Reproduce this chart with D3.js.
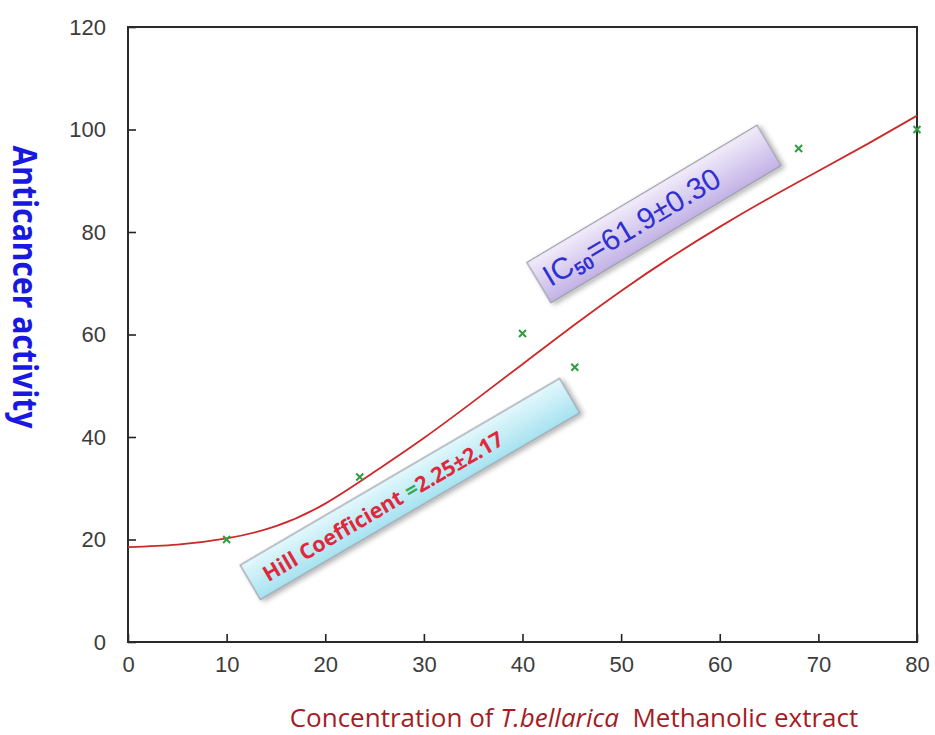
<!DOCTYPE html>
<html>
<head>
<meta charset="utf-8">
<script src="https://cdn.jsdelivr.net/npm/d3@7"></script>
<style>
  html, body { margin: 0; padding: 0; background: #ffffff; }
  svg { display: block; }
</style>
</head>
<body>
<svg id="chart" width="935" height="735"></svg>
<script>
// ---- data ----
const xTicks = [0, 10, 20, 30, 40, 50, 60, 70, 80];
const yTicks = [0, 20, 40, 60, 80, 100, 120];
const obsX = [10, 23.5, 40, 45.3, 68, 80];
const obsY = [20, 32.2, 60.2, 53.6, 96.3, 100];
const fitX = [0, 5, 10, 15, 20, 25, 30, 35, 40, 45, 50, 55, 60, 65, 70, 75, 80];
const fitY = [18.5, 19.0, 20.2, 22.6, 27.0, 33.2, 39.8, 46.9, 54.2, 61.5, 68.5, 75.0, 81.0, 86.6, 91.9, 97.2, 102.7];
const yTitle = "Anticancer activity";
const icLabel = ["IC", "50", "=61.9±0.30"];
const hillLabel = ["Hill Coefficient ", "=", "2.25±2.17"];

// ---- layout ----
const svg = d3.select("#chart");
const L = 128, R = 917, T = 27, B = 642;
const x = d3.scaleLinear().domain([0, 80]).range([L, R]);
const y = d3.scaleLinear().domain([0, 120]).range([B, T]);

const defs = svg.append("defs");
const gP = defs.append("linearGradient").attr("id", "gP").attr("x1", 0).attr("y1", 0).attr("x2", 0).attr("y2", 1);
gP.append("stop").attr("offset", "0%").attr("stop-color", "#f1ecfa");
gP.append("stop").attr("offset", "100%").attr("stop-color", "#c2b2e6");
const gC = defs.append("linearGradient").attr("id", "gC").attr("x1", 0).attr("y1", 0).attr("x2", 0).attr("y2", 1);
gC.append("stop").attr("offset", "0%").attr("stop-color", "#e3f8fc");
gC.append("stop").attr("offset", "100%").attr("stop-color", "#a6e2f0");
const sh = defs.append("filter").attr("id", "sh").attr("x", "-20%").attr("y", "-50%").attr("width", "140%").attr("height", "200%");
sh.append("feDropShadow").attr("dx", 2).attr("dy", 3).attr("stdDeviation", 2.5).attr("flood-color", "#000").attr("flood-opacity", 0.3);

// ---- axes ----
const tickFont = "'Liberation Sans', Arial, sans-serif";
const xAxis = svg.append("g").attr("transform", `translate(0,${B})`)
  .call(d3.axisBottom(x).tickValues(xTicks).tickSizeInner(-8).tickSizeOuter(0).tickPadding(14));
const yAxis = svg.append("g").attr("transform", `translate(${L},0)`)
  .call(d3.axisLeft(y).tickValues(yTicks).tickSizeInner(-8).tickSizeOuter(0).tickPadding(22));
[xAxis, yAxis].forEach(g => {
  g.select(".domain").remove();
  g.selectAll(".tick line").attr("stroke", "#222").attr("stroke-width", 1.6);
  g.selectAll(".tick text").attr("font-family", tickFont).attr("font-size", 22).attr("fill", "#3c3c3c");
});
xAxis.selectAll(".tick text").attr("dy", "0.71em");
// frame
svg.append("rect").attr("x", L).attr("y", T).attr("width", R - L).attr("height", B - T)
  .attr("fill", "none").attr("stroke", "#2a2a2a").attr("stroke-width", 2);

// ---- fitted curve ----
const line = d3.line().x((d, i) => x(fitX[i])).y((d, i) => y(fitY[i])).curve(d3.curveNatural);
svg.append("path").datum(fitY).attr("d", line).attr("fill", "none")
  .attr("stroke", "#cc2a2a").attr("stroke-width", 1.8);

// ---- observed points ----
const s = 3.5;
svg.append("g").selectAll("path").data(obsX).join("path")
  .attr("d", (d, i) => {
    const cx = x(d), cy = y(obsY[i]);
    return `M${cx - s},${cy - s}L${cx + s},${cy + s}M${cx - s},${cy + s}L${cx + s},${cy - s}`;
  })
  .attr("stroke", "#2e9e3e").attr("stroke-width", 2).attr("fill", "none");

// ---- annotation boxes ----
function box(cx, cy, w, h, ang, fill) {
  const g = svg.append("g").attr("transform", `translate(${cx},${cy}) rotate(${ang})`);
  g.append("rect").attr("x", -w / 2).attr("y", -h / 2).attr("width", w).attr("height", h)
    .attr("fill", fill).attr("stroke", "#9a9aa6").attr("stroke-width", 1.2).attr("filter", "url(#sh)");
  return g;
}
const gp = box(654, 214, 268, 47, -30.8, "url(#gP)");
const tp = gp.append("text").attr("x", -26).attr("y", 10).attr("text-anchor", "middle")
  .attr("font-family", "'Liberation Sans', Arial, sans-serif").attr("font-size", 30).attr("fill", "#3030d0");
tp.append("tspan").text(icLabel[0]);
tp.append("tspan").attr("font-size", 18).attr("font-weight", "bold").attr("dy", 5).text(icLabel[1]);
tp.append("tspan").attr("dy", -5).text(icLabel[2]);

const gc = box(410, 489, 370, 40, -30.3, "url(#gC)");
const tc = gc.append("text").attr("x", -32).attr("y", 9).attr("text-anchor", "middle")
  .attr("font-family", "'Open Sans', 'Liberation Sans', sans-serif").attr("font-weight", "bold")
  .attr("font-size", 21.5).attr("fill", "#e0283c");
tc.append("tspan").text(hillLabel[0]);
tc.append("tspan").attr("fill", "#3aa85a").text(hillLabel[1]);
tc.append("tspan").text(hillLabel[2]);

// ---- axis titles ----
svg.append("text").attr("transform", `translate(13,287) rotate(90)`).attr("text-anchor", "middle")
  .attr("textLength", 283).attr("lengthAdjust", "spacingAndGlyphs")
  .attr("font-family", "'Open Sans', 'Liberation Sans', sans-serif").attr("font-weight", "bold")
  .attr("font-size", 34).attr("fill", "#1818e0").text(yTitle);

const xt = svg.append("text").attr("x", 574).attr("y", 727).attr("text-anchor", "middle")
  .attr("font-family", "'Open Sans', 'Liberation Sans', sans-serif")
  .attr("font-size", 26).attr("fill", "#a51c24");
xt.append("tspan").text("Concentration of ");
xt.append("tspan").attr("font-style", "italic").text("T.bellarica");
xt.append("tspan").text("\u00a0\u00a0Methanolic extract");
</script>
</body>
</html>
